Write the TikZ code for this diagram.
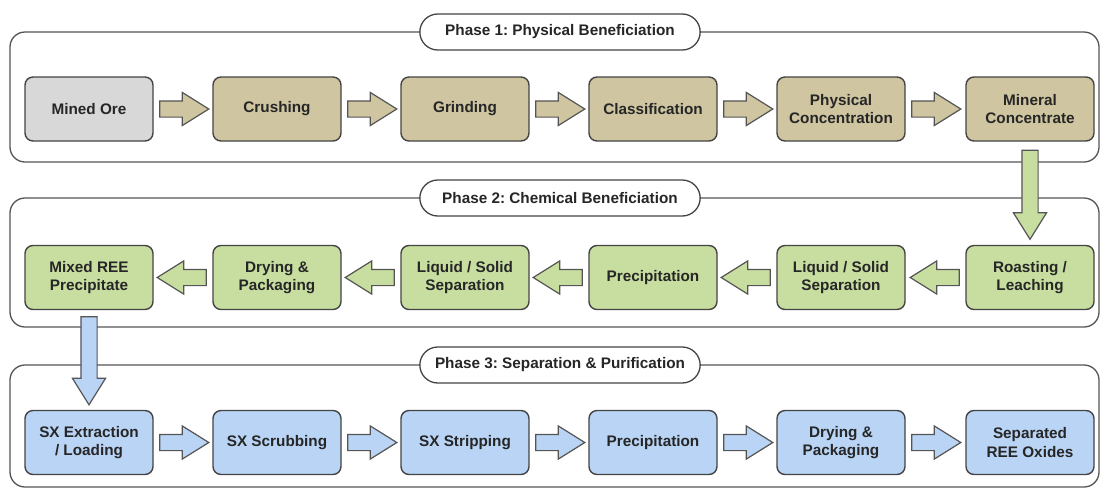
\documentclass[tikz,border=0pt]{standalone}
\usepackage{fontspec}
\setmainfont{Liberation Sans}
\usetikzlibrary{shapes.arrows,shapes.misc,calc}
\frenchspacing
\definecolor{edge}{HTML}{444444}
\definecolor{frameline}{HTML}{555555}
\definecolor{txt}{HTML}{262626}
\definecolor{orefill}{HTML}{D8D8D8}
\definecolor{tanfill}{HTML}{CFC5A1}
\definecolor{greenfill}{HTML}{C8DEA0}
\definecolor{bluefill}{HTML}{B9D4F4}
\tikzset{
  stage/.style={draw=edge, line width=1.4pt, rounded corners=8pt,
    minimum width=128pt, minimum height=64pt, align=center,
    font=\fontsize{15.3}{18.5}\selectfont\bfseries, text=txt, inner sep=2pt},
  panel/.style={draw=frameline, line width=1.3pt, rounded corners=15pt},
  phasetitle/.style={draw=edge, line width=1.3pt, fill=white, rounded rectangle,
    minimum width=287pt, minimum height=36pt,
    font=\fontsize{15.3}{18}\selectfont\bfseries, text=txt},
  flow/.style={single arrow, draw=frameline, line width=1.2pt,
    minimum width=32pt, inner sep=7.5pt, anchor=tail,
    single arrow head extend=8.5pt, single arrow tip angle=64},
  hflow/.style={flow, minimum height=49pt},
  vflow/.style={flow, minimum height=89pt, shape border rotate=270},
}
\begin{document}
\begin{tikzpicture}[x=1pt,y=-1pt]
\useasboundingbox (0,0) rectangle (1102,491);

% phase panels
\draw[panel] (10,32) rectangle (1099,162);
\draw[panel] (10,198) rectangle (1099,327);
\draw[panel] (10,365) rectangle (1099,487);

\node[phasetitle] (t1) at (560,32) {Phase 1: Physical Beneficiation};
\node[phasetitle] (t2) at (560,198) {Phase 2: Chemical Beneficiation};
\node[phasetitle] (t3) at (560,365) {Phase 3: Separation \& Purification};

% phase 1 stages
\node[stage, fill=orefill] (p1) at (89,109) {Mined Ore};
\node[stage, fill=tanfill] (p2) at (277,109) {Crushing};
\node[stage, fill=tanfill] (p3) at (465,109) {Grinding};
\node[stage, fill=tanfill] (p4) at (653,109) {Classification};
\node[stage, fill=tanfill] (p5) at (841,109) {Physical\\Concentration};
\node[stage, fill=tanfill] (p6) at (1030,109) {Mineral\\Concentrate};

% phase 2 stages
\node[stage, fill=greenfill] (c1) at (1030,277.5) {Roasting /\\Leaching};
\node[stage, fill=greenfill] (c2) at (841,277.5) {Liquid / Solid\\Separation};
\node[stage, fill=greenfill] (c3) at (653,277.5) {Precipitation};
\node[stage, fill=greenfill] (c4) at (465,277.5) {Liquid / Solid\\Separation};
\node[stage, fill=greenfill] (c5) at (277,277.5) {Drying \&\\Packaging};
\node[stage, fill=greenfill] (c6) at (89,277.5) {Mixed REE\\Precipitate};

% phase 3 stages
\node[stage, fill=bluefill] (s1) at (89,442.5) {SX Extraction\\/ Loading};
\node[stage, fill=bluefill] (s2) at (277,442.5) {SX Scrubbing};
\node[stage, fill=bluefill] (s3) at (465,442.5) {SX Stripping};
\node[stage, fill=bluefill] (s4) at (653,442.5) {Precipitation};
\node[stage, fill=bluefill] (s5) at (841,442.5) {Drying \&\\Packaging};
\node[stage, fill=bluefill] (s6) at (1030,442.5) {Separated\\REE Oxides};

% flow arrows, phase 1
\foreach \a in {p1,p2,p3,p4,p5}
  \node[hflow, fill=tanfill] (a-\a) at ($(\a.east)+(5.5,0)$) {};
% phase 1 to phase 2
\node[vflow, fill=greenfill] (a-p6) at ($(p6.south)+(0,8)$) {};
% flow arrows, phase 2 (right to left)
\foreach \a in {c1,c2,c3,c4,c5}
  \node[hflow, fill=greenfill, shape border rotate=180] (a-\a) at ($(\a.west)+(-5.5,0)$) {};
% phase 2 to phase 3
\node[vflow, fill=bluefill, minimum height=88pt] (a-c6) at ($(c6.south)+(0,6)$) {};
% flow arrows, phase 3
\foreach \a in {s1,s2,s3,s4,s5}
  \node[hflow, fill=bluefill] (a-\a) at ($(\a.east)+(5.5,0)$) {};
\end{tikzpicture}
\end{document}
